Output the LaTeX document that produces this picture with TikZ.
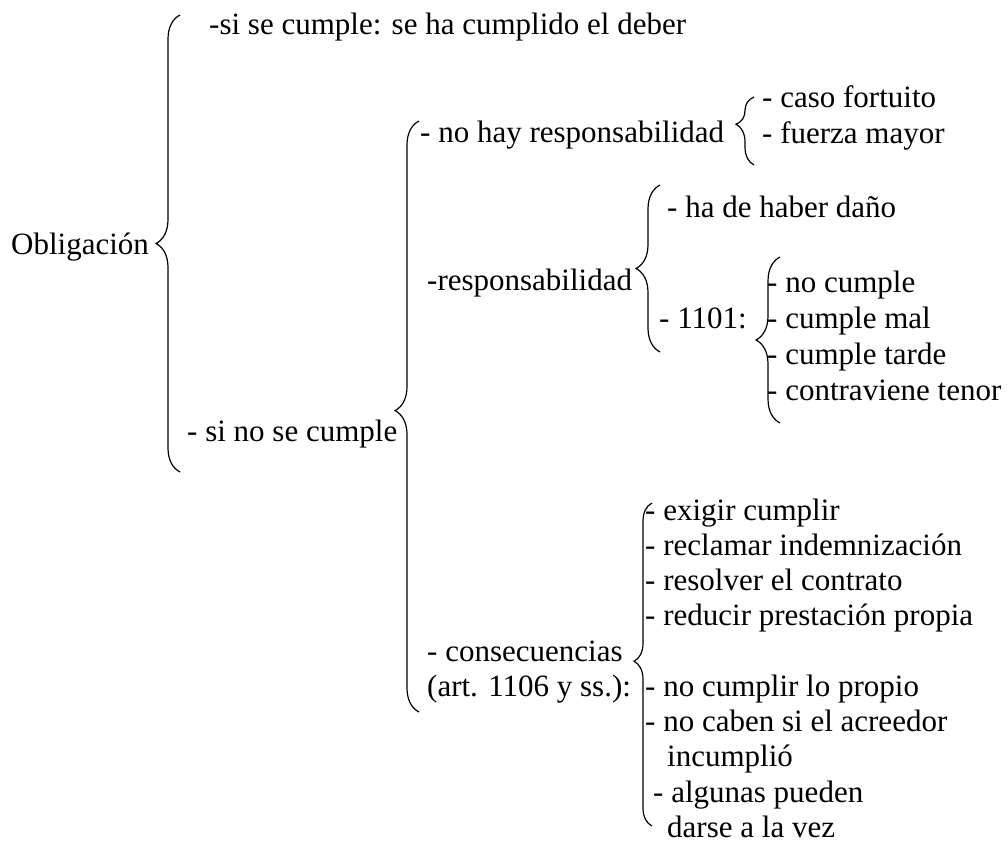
\documentclass[tikz,border=0pt]{standalone}
\usepackage{fontspec}
\setmainfont{Liberation Serif}
\usetikzlibrary{decorations.pathreplacing}

\tikzset{
  txt/.style={anchor=west, inner sep=0pt, text height=22pt, text depth=7pt},
  llave/.style={decorate, line width=1.2pt, decoration={brace, amplitude=24pt, aspect=#1}},
  llave/.default=0.5
}

\begin{document}
\begin{tikzpicture}[x=1pt, y=-1pt, font=\fontsize{31}{35}\selectfont]
  \useasboundingbox (0,0) rectangle (1008,846);
  % primer nivel
  \node[txt] (obl) at (11,247) {Obligación};
  \node[txt] (sicump) at (209,27) {-si se cumple: se ha cumplido el deber};
  \node[txt] (sino) at (187,434) {- si no se cumple};
  % si no se cumple
  \node[txt] (nohay) at (420,135) {- no hay responsabilidad};
  \node[txt] (resp) at (427,283) {-responsabilidad};
  \node[txt] (conse) at (427,654) {- consecuencias};
  \node[txt] (art) at (427,689) {(art. 1106 y ss.):};
  % no hay responsabilidad
  \node[txt] (caso) at (762,100) {- caso fortuito};
  \node[txt] (fuerza) at (762,136) {- fuerza mayor};
  % responsabilidad
  \node[txt] (dano) at (667,210) {- ha de haber daño};
  \node[txt] (n1101) at (659,321) {- 1101:};
  \node[txt] (nocump) at (767,285) {- no cumple};
  \node[txt] (cmal) at (767,321) {- cumple mal};
  \node[txt] (ctarde) at (767,357) {- cumple tarde};
  \node[txt] (contrav) at (767,393) {- contraviene tenor};
  % consecuencias
  \node[txt] (exigir) at (645,513) {- exigir cumplir};
  \node[txt] (reclamar) at (645,548) {- reclamar indemnización};
  \node[txt] (resolver) at (645,583) {- resolver el contrato};
  \node[txt] (reducir) at (645,618) {- reducir prestación propia};
  \node[txt] (nocumplir) at (645,689) {- no cumplir lo propio};
  \node[txt] (nocaben) at (645,724) {- no caben si el acreedor};
  \node[txt] (incump) at (667,759) {incumplió};
  \node[txt] (algunas) at (653,795) {- algunas pueden};
  \node[txt] (darse) at (667,830) {darse a la vez};

  % llaves
  \coordinate (b1a) at (180,472); \coordinate (b1b) at (180,15);
  \coordinate (b2a) at (419,712); \coordinate (b2b) at (419,121);
  \coordinate (b3a) at (754,165); \coordinate (b3b) at (754,97);
  \coordinate (b4a) at (660,352); \coordinate (b4b) at (660,185);
  \coordinate (b5a) at (780,423); \coordinate (b5b) at (780,257);
  \coordinate (b6a) at (652,826); \coordinate (b6b) at (652,503);
  \draw[llave] (b1a) -- (b1b);
  \draw[llave=0.51] (b2a) -- (b2b);
  \draw[llave=0.6, decoration={amplitude=18pt}] (b3a) -- (b3b);
  \draw[llave] (b4a) -- (b4b);
  \draw[llave] (b5a) -- (b5b);
  \draw[llave=0.51, decoration={amplitude=18pt}] (b6a) -- (b6b);
\end{tikzpicture}
\end{document}
